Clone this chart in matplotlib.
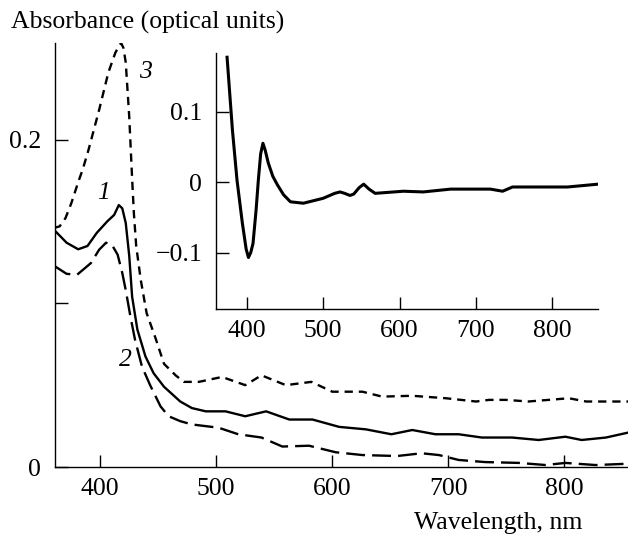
import matplotlib
matplotlib.use("Agg")
import matplotlib.pyplot as plt

plt.rcParams['font.family'] = ['Liberation Serif', 'DejaVu Serif']

# Curve 1 (solid)
wl1 = [360, 371, 381, 389, 397, 406, 412, 416, 419, 422, 425, 427.5, 432, 439, 446, 455, 469, 479,
       491, 508, 525, 543, 563, 583, 606, 629, 651, 669, 689, 709, 729, 755, 778, 801, 815, 836, 855]
a1 = [0.145, 0.137, 0.133, 0.135, 0.143, 0.150, 0.154, 0.160, 0.158, 0.149, 0.129, 0.104, 0.084,
      0.0675, 0.0573, 0.049, 0.040, 0.036, 0.034, 0.034, 0.031, 0.034, 0.029, 0.029, 0.0245, 0.023,
      0.020, 0.0226, 0.020, 0.020, 0.018, 0.018, 0.0165, 0.0185, 0.0165, 0.018, 0.021]

# Curve 2 (long dashes)
wl2 = [360, 371, 380, 392, 399, 405, 410, 415, 419, 422, 426, 430, 436, 443, 452, 459, 469, 479,
       502, 519, 539, 557, 580, 603, 626, 656, 677, 692, 709, 732, 761, 784, 801, 827, 855]
a2 = [0.123, 0.118, 0.1174, 0.1246, 0.1327, 0.137, 0.1358, 0.1297, 0.1185, 0.108, 0.092, 0.0777,
      0.0613, 0.050, 0.037, 0.031, 0.028, 0.026, 0.024, 0.020, 0.018, 0.0125, 0.013, 0.009, 0.0073,
      0.0067, 0.0084, 0.0073, 0.0043, 0.003, 0.0025, 0.0012, 0.0025, 0.0012, 0.002]

# Curve 3 (short dashes)
wl3 = [360, 365, 370, 375, 381, 385, 390, 399, 407, 413, 416, 418, 420, 422, 425, 427.5, 429, 431,
       435, 440, 448, 455, 465, 472, 485, 505, 525, 539, 560, 582, 600, 626, 643, 669, 698, 724,
       735, 750, 769, 804, 819, 855]
a3 = [0.146, 0.147, 0.152, 0.161, 0.174, 0.182, 0.194, 0.218, 0.241, 0.253, 0.257, 0.259, 0.256,
      0.247, 0.214, 0.176, 0.155, 0.135, 0.114, 0.094, 0.078, 0.063, 0.056, 0.052, 0.052, 0.055,
      0.050, 0.056, 0.050, 0.052, 0.046, 0.046, 0.043, 0.0435, 0.042, 0.040, 0.041, 0.041, 0.040,
      0.042, 0.040, 0.040]

# Inset: difference spectrum
wl_in = [374, 381, 387, 394, 399, 402, 405, 408, 412, 415, 418, 421, 424, 428, 434, 440, 448, 457,
         474, 500, 515, 522, 528, 535, 540, 547, 553, 560, 568, 605, 631, 667, 719, 735, 748, 785,
         820, 860]
d_in = [0.177, 0.074, 0.003, -0.058, -0.095, -0.107, -0.100, -0.087, -0.040, 0.003, 0.040, 0.055,
        0.045, 0.027, 0.008, -0.004, -0.018, -0.028, -0.030, -0.023, -0.016, -0.014, -0.016, -0.019,
        -0.017, -0.008, -0.003, -0.010, -0.016, -0.013, -0.014, -0.010, -0.010, -0.013, -0.007,
        -0.007, -0.007, -0.003]

main_xticks = [400, 500, 600, 700, 800]
main_yticks = [0, 0.1, 0.2]
main_yticklabels = ['0', '', '0.2']
inset_yticks = [-0.1, 0, 0.1]
inset_yticklabels = ['\u22120.1', '0', '0.1']

FS = 18.5
fig = plt.figure(figsize=(6.28, 5.35), dpi=100)
ax = fig.add_axes([55/628, 1-467/535, 1-55/628, (467-43)/535])
ax.plot(wl1, a1, color='black', lw=1.7, solid_joinstyle='round')
ax.plot(wl2, a2, color='black', lw=1.7, dashes=(8, 3))
ax.plot(wl3, a3, color='black', lw=1.7, dashes=(3.5, 2.5))
ax.set_xlim(361, 855)
ax.set_ylim(0, 0.259)
ax.set_xticks(main_xticks)
ax.set_yticks(main_yticks)
ax.set_yticklabels(main_yticklabels)
for s in ['top', 'right']:
    ax.spines[s].set_visible(False)
for s in ['left', 'bottom']:
    ax.spines[s].set_linewidth(1.0)
ax.tick_params(direction='in', length=9, width=1.0, labelsize=FS, pad=8, colors='black')
ax.tick_params(axis='y', pad=10)

ax.text(439, 0.241, '3', fontsize=FS, style='italic', ha='center', va='center')
ax.text(403, 0.1676, '1', fontsize=FS, style='italic', ha='center', va='center')
ax.text(422, 0.0654, '2', fontsize=FS, style='italic', ha='center', va='center')

fig.text(11/628, 1-22/535, 'Absorbance (optical units)', fontsize=FS, ha='left', va='center')
fig.text(582/628, 1-523/535, 'Wavelength, nm', fontsize=FS, ha='right', va='center')

ins = fig.add_axes([216/628, 1-309/535, (598-216)/628, (309-53)/535])
ins.plot(wl_in, d_in, color='black', lw=2.2, solid_joinstyle='round')
ins.set_xlim(359.5, 860)
ins.set_ylim(-0.18, 0.183)
ins.set_xticks(main_xticks)
ins.set_yticks(inset_yticks)
ins.set_yticklabels(inset_yticklabels)
ins.patch.set_alpha(0)
for s in ['top', 'right']:
    ins.spines[s].set_visible(False)
for s in ['left', 'bottom']:
    ins.spines[s].set_linewidth(1.0)
ins.tick_params(direction='in', length=9, width=1.0, labelsize=FS, pad=8, colors='black')
ins.tick_params(axis='y', pad=10)

fig.savefig('out.png', dpi=100)
